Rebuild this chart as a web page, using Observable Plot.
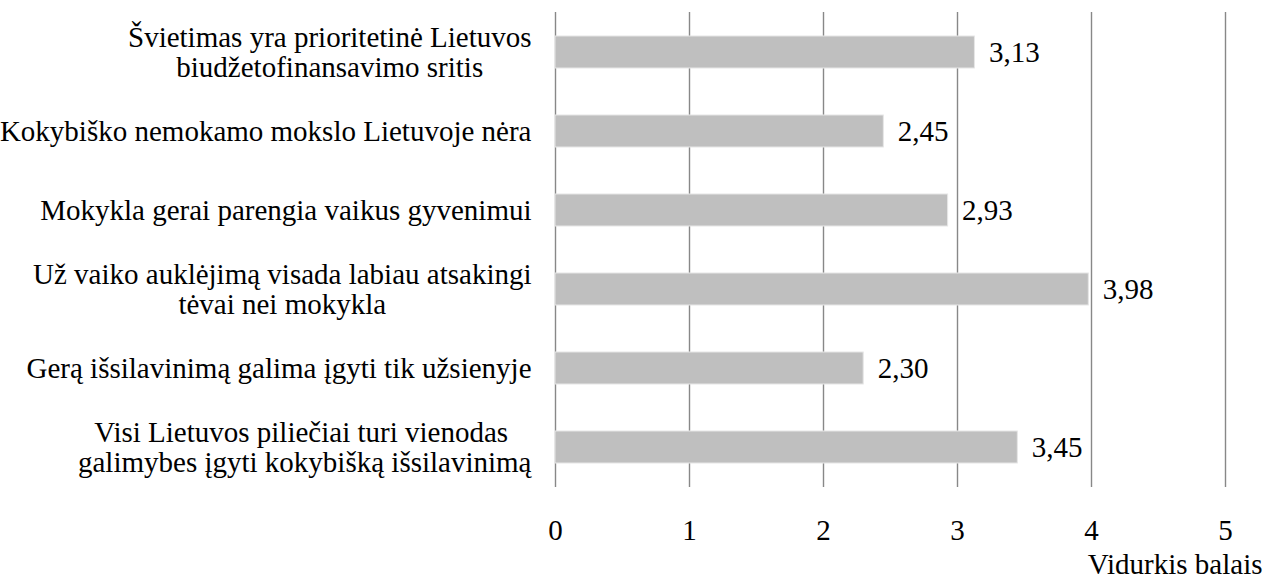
<!DOCTYPE html>
<html>
<head>
<meta charset="utf-8">
<script src="https://cdn.jsdelivr.net/npm/d3@7"></script>
<script src="https://cdn.jsdelivr.net/npm/@observablehq/plot@0.6"></script>
<style>
  html, body { margin: 0; padding: 0; background: #fff; }
  #chart svg, #chart svg text { font-family: "Liberation Serif", "Times New Roman", serif !important; }
  svg text { white-space: pre; }
</style>
</head>
<body>
<div id="chart"></div>
<script>
const categories = [
  "Švietimas yra prioritetinė Lietuvos\nbiudžetofinansavimo sritis",
  "Kokybiško nemokamo mokslo Lietuvoje nėra",
  "Mokykla gerai parengia vaikus gyvenimui",
  "Už vaiko auklėjimą visada labiau atsakingi\ntėvai nei mokykla",
  "Gerą išsilavinimą galima įgyti tik užsienyje",
  "Visi Lietuvos piliečiai turi vienodas \ngalimybes įgyti kokybišką išsilavinimą"
];
const values = [3.13, 2.45, 2.93, 3.98, 2.30, 3.45];
const xTicks = [0, 1, 2, 3, 4, 5];
const xLabel = "Vidurkis balais";

const fmt = v => d3.format(".2f")(v).replace(".", ",");
const data = categories.map((c, i) => ({cat: c, value: values[i], label: fmt(values[i])}));

const FONT = "Liberation Serif";
const FS = 29;

const plot = Plot.plot({
  width: 1266,
  height: 579,
  marginLeft: 555,
  marginRight: 41,
  marginTop: 12,
  marginBottom: 92,
  style: {fontFamily: FONT, fontSize: FS + "px", color: "#000", background: "#fff"},
  x: {domain: [0, 5], ticks: xTicks},
  y: {domain: categories, paddingInner: 0.6, paddingOuter: 0.3},
  marks: [
    Plot.ruleX(xTicks, {stroke: "#888888", strokeWidth: 1.4}),
    Plot.ruleY([0], {frameAnchor: "bottom", stroke: "#888888", strokeWidth: 1.4}),
    Plot.barX(data, {x: "value", y: "cat", fill: "#bfbfbf", stroke: "#e6e6e6", strokeWidth: 1}),
    Plot.text(data, {x: "value", y: "cat", text: "label", textAnchor: "start", dx: 14, fontSize: FS, fontFamily: FONT, fill: "#000"}),
    Plot.axisX(xTicks, {tickSize: 0, tickPadding: 32, fontSize: FS, fontFamily: FONT, label: null, tickFormat: d => String(d)}),
    Plot.axisY({tickSize: 0, tickPadding: 24, fontSize: FS, fontFamily: FONT, lineHeight: 1.04, label: null, textOverflow: null, lineWidth: Infinity}),
    Plot.text([xLabel], {frameAnchor: "bottom-right", text: d => d, textAnchor: "end", lineAnchor: "middle", dx: 37, dy: 77, fontSize: FS, fontFamily: FONT, fill: "#000"})
  ]
});

document.getElementById("chart").appendChild(plot);

// center lines of multi-line category labels relative to their longest line
plot.querySelectorAll('g[aria-label="y-axis tick label"] text').forEach(t => {
  const spans = Array.from(t.querySelectorAll("tspan"));
  if (spans.length < 2) return;
  const widths = spans.map(s => s.getComputedTextLength());
  const w = Math.max(...widths);
  spans.forEach((s, i) => s.setAttribute("x", -(w - widths[i]) / 2));
});
</script>
</body>
</html>
